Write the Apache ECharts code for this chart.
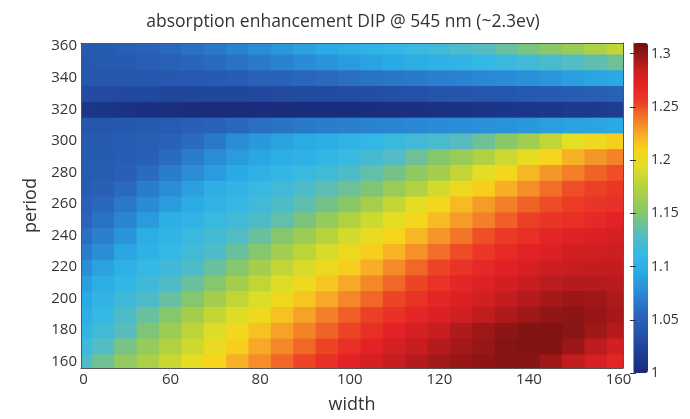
<!DOCTYPE html>
<html><head><meta charset="utf-8">
<script src="https://cdn.jsdelivr.net/npm/echarts@6/dist/echarts.min.js"></script>
<style>html,body{margin:0;padding:0;background:#fff}#c{width:690px;height:419px}</style>
</head><body><div id="c"></div>
<script>
// ---- data ----
const widths = [40, 45, 50, 55, 60, 65, 70, 75, 80, 85, 90, 95, 100, 105, 110, 115, 120, 125, 130, 135, 140, 145, 150, 155, 160];
const periods = [160, 170, 180, 190, 200, 210, 220, 230, 240, 250, 260, 270, 280, 290, 300, 310, 320, 330, 340, 350, 360];
// one row per period (same order as periods), one value per width
const enhancement = [
  [1.125,1.141,1.156,1.169,1.183,1.197,1.210,1.222,1.233,1.244,1.253,1.262,1.270,1.278,1.285,1.290,1.295,1.298,1.300,1.302,1.302,1.296,1.287,1.277,1.268], // 160
  [1.115,1.128,1.144,1.158,1.172,1.186,1.200,1.212,1.225,1.235,1.244,1.253,1.262,1.270,1.278,1.285,1.290,1.295,1.298,1.302,1.304,1.303,1.297,1.288,1.280], // 170
  [1.106,1.119,1.131,1.147,1.162,1.178,1.192,1.205,1.216,1.227,1.236,1.245,1.253,1.262,1.270,1.278,1.285,1.291,1.296,1.300,1.303,1.304,1.301,1.296,1.290], // 180
  [1.100,1.111,1.125,1.138,1.150,1.166,1.181,1.193,1.205,1.216,1.227,1.237,1.246,1.254,1.261,1.267,1.274,1.281,1.287,1.292,1.296,1.299,1.300,1.298,1.294], // 190
  [1.095,1.106,1.117,1.125,1.137,1.150,1.166,1.180,1.192,1.204,1.215,1.225,1.235,1.244,1.253,1.260,1.267,1.274,1.280,1.286,1.290,1.294,1.297,1.296,1.292], // 200
  [1.088,1.098,1.108,1.117,1.125,1.138,1.150,1.166,1.180,1.193,1.205,1.215,1.225,1.235,1.244,1.253,1.260,1.267,1.273,1.279,1.285,1.288,1.290,1.290,1.289], // 210
  [1.078,1.090,1.101,1.110,1.117,1.125,1.138,1.150,1.166,1.180,1.190,1.202,1.212,1.223,1.234,1.244,1.253,1.260,1.266,1.272,1.277,1.282,1.285,1.286,1.286], // 220
  [1.068,1.078,1.092,1.103,1.110,1.118,1.125,1.138,1.150,1.164,1.177,1.190,1.202,1.212,1.221,1.232,1.242,1.251,1.258,1.265,1.270,1.275,1.279,1.281,1.282], // 230
  [1.060,1.070,1.082,1.098,1.106,1.113,1.120,1.127,1.138,1.150,1.162,1.175,1.188,1.200,1.210,1.220,1.230,1.240,1.250,1.256,1.262,1.268,1.272,1.275,1.277], // 240
  [1.053,1.062,1.074,1.086,1.099,1.106,1.112,1.119,1.125,1.135,1.146,1.158,1.172,1.185,1.197,1.208,1.219,1.229,1.237,1.246,1.254,1.259,1.262,1.266,1.270], // 250
  [1.049,1.056,1.066,1.076,1.087,1.097,1.104,1.111,1.118,1.125,1.134,1.143,1.152,1.167,1.181,1.197,1.208,1.219,1.229,1.237,1.245,1.251,1.255,1.259,1.262], // 260
  [1.046,1.049,1.058,1.068,1.078,1.089,1.099,1.106,1.112,1.119,1.125,1.133,1.140,1.148,1.160,1.172,1.188,1.203,1.212,1.223,1.233,1.242,1.250,1.254,1.258], // 270
  [1.045,1.046,1.049,1.058,1.068,1.078,1.087,1.095,1.102,1.108,1.114,1.119,1.125,1.135,1.143,1.155,1.166,1.181,1.197,1.208,1.220,1.230,1.237,1.245,1.250], // 280
  [1.045,1.045,1.047,1.049,1.058,1.068,1.078,1.086,1.093,1.100,1.103,1.108,1.113,1.120,1.128,1.140,1.150,1.160,1.172,1.185,1.198,1.210,1.222,1.230,1.236], // 290
  [1.044,1.045,1.046,1.048,1.051,1.058,1.066,1.078,1.085,1.090,1.096,1.100,1.104,1.109,1.114,1.118,1.123,1.130,1.140,1.152,1.165,1.180,1.195,1.205,1.212], // 300
  [1.040,1.041,1.042,1.044,1.046,1.049,1.052,1.056,1.060,1.063,1.066,1.068,1.070,1.072,1.074,1.075,1.077,1.078,1.080,1.082,1.085,1.088,1.090,1.092,1.095], // 310
  [1.012,1.010,1.008,1.006,1.005,1.004,1.003,1.003,1.003,1.003,1.003,1.003,1.003,1.004,1.005,1.006,1.007,1.008,1.010,1.011,1.012,1.013,1.015,1.016,1.018], // 320
  [1.030,1.029,1.028,1.028,1.027,1.027,1.027,1.027,1.028,1.029,1.030,1.031,1.032,1.033,1.035,1.036,1.038,1.039,1.040,1.041,1.043,1.045,1.047,1.048,1.050], // 330
  [1.040,1.040,1.040,1.041,1.042,1.043,1.045,1.047,1.050,1.052,1.055,1.057,1.060,1.062,1.065,1.067,1.070,1.072,1.075,1.077,1.080,1.084,1.088,1.092,1.095], // 340
  [1.042,1.043,1.045,1.048,1.050,1.054,1.058,1.062,1.067,1.072,1.077,1.082,1.087,1.091,1.095,1.098,1.102,1.106,1.110,1.114,1.118,1.123,1.128,1.134,1.140], // 350
  [1.043,1.045,1.048,1.052,1.056,1.061,1.066,1.072,1.078,1.084,1.090,1.095,1.100,1.104,1.108,1.113,1.118,1.124,1.130,1.137,1.145,1.152,1.160,1.170,1.180]  // 360
];
const xTickValues = [40, 60, 80, 100, 120, 140, 160];
const xTickLabels = ['0', '60', '80', '100', '120', '140', '160'];
const yTickValues = [160, 180, 200, 220, 240, 260, 280, 300, 320, 340, 360];
const cbarTickValues = [1, 1.05, 1.1, 1.15, 1.2, 1.25, 1.3];
const titleText = 'absorption enhancement DIP @ 545 nm (~2.3ev)';

// ---- colour map (jet-like) ----
const colorStops = [
  [1.000, '#1a2a78'], [1.015, '#1c3a8e'], [1.035, '#2450a8'], [1.055, '#2a66bc'],
  [1.075, '#2a88d4'], [1.095, '#2aaae4'], [1.110, '#34b8e6'], [1.130, '#56bcc0'],
  [1.150, '#86c66c'], [1.175, '#b6d23c'], [1.195, '#e2df24'], [1.210, '#f6d41c'],
  [1.225, '#f7a828'], [1.240, '#f27628'], [1.255, '#ec3c26'], [1.270, '#e32226'],
  [1.285, '#c81e20'], [1.295, '#a31818'], [1.302, '#861414'], [1.310, '#721010']
];
const VMIN = 1.0, VMAX = 1.31;
function hex2rgb(h){return [parseInt(h.substr(1,2),16),parseInt(h.substr(3,2),16),parseInt(h.substr(5,2),16)];}
function colorAt(v){
  for (let i = 0; i < colorStops.length - 1; i++) {
    const [a, ca] = colorStops[i], [b, cb] = colorStops[i+1];
    if (v <= b) {
      const t = (v - a) / (b - a), A = hex2rgb(ca), B = hex2rgb(cb);
      return 'rgb(' + A.map((x, k) => Math.round(x + (B[k] - x) * t)).join(',') + ')';
    }
  }
  return colorStops[colorStops.length-1][1];
}
const palette = [];
for (let i = 0; i <= 124; i++) palette.push(colorAt(VMIN + (VMAX - VMIN) * i / 124));

const cells = [];
periods.forEach((p, i) => widths.forEach((w, j) => cells.push([w, p, enhancement[i][j]])));
const HALF_W = (widths[1] - widths[0]) / 2, HALF_P = (periods[1] - periods[0]) / 2;

function renderCell(params, api) {
  const w = api.value(0), p = api.value(1);
  const tl = api.coord([w - HALF_W, p + HALF_P]);
  const br = api.coord([w + HALF_W, p - HALF_P]);
  const cs = params.coordSys;
  const r = echarts.graphic.clipRectByRect(
    {x: tl[0] - 0.5, y: tl[1] - 0.5, width: br[0] - tl[0] + 1, height: br[1] - tl[1] + 1},
    {x: cs.x, y: cs.y, width: cs.width, height: cs.height});
  if (!r) return;
  return {type: 'rect', shape: r, style: {fill: api.visual('color')}};
}

const FONT = 'Open Sans';
const TXT = '#333';
const chart = echarts.init(document.getElementById('c'));
chart.setOption({
  animation: false,
  backgroundColor: '#fff',
  title: {text: titleText, left: 338, top: 8, textAlign: 'center',
    textStyle: {fontFamily: FONT, fontSize: 17.5, fontWeight: 'normal', color: TXT}},
  grid: [
    {left: 81, top: 43, width: 542, height: 330},
    {left: 633, top: 43, width: 15, height: 330}
  ],
  xAxis: [
    {type: 'value', gridIndex: 0, min: 40, max: 161, interval: 20, z: 10,
      axisLine: {show: true, lineStyle: {color: '#555'}}, axisTick: {show: false}, splitLine: {show: false},
      axisLabel: {customValues: xTickValues, margin: 4, fontFamily: FONT, fontSize: 15, color: TXT,
        rich: {first: {fontFamily: FONT, fontSize: 15, color: TXT, padding: [0, 0, 0, 5]}},
        formatter: v => { const k = xTickValues.indexOf(v); return k < 0 ? '' : (k === 0 ? '{first|' + xTickLabels[k] + '}' : xTickLabels[k]); }},
      name: 'width', nameLocation: 'middle', nameGap: 28,
      nameTextStyle: {fontFamily: FONT, fontSize: 18, color: TXT}},
    {type: 'value', gridIndex: 0, position: 'top', min: 40, max: 161, z: 10,
      axisLine: {show: true, lineStyle: {color: '#555'}}, axisTick: {show: false},
      axisLabel: {show: false}, splitLine: {show: false}},
    {type: 'value', gridIndex: 1, min: 0, max: 1, show: false}
  ],
  yAxis: [
    {type: 'value', gridIndex: 0, min: 156, max: 362, interval: 2, z: 10,
      axisLine: {show: true, lineStyle: {color: '#555'}}, axisTick: {show: false}, splitLine: {show: false},
      axisLabel: {customValues: yTickValues, margin: 4, fontFamily: FONT, fontSize: 15, color: TXT,
        formatter: v => yTickValues.indexOf(v) < 0 ? '' : String(v)},
      name: 'period', nameLocation: 'middle', nameGap: 38, nameRotate: 90,
      nameTextStyle: {fontFamily: FONT, fontSize: 18, color: TXT}},
    {type: 'value', gridIndex: 0, position: 'right', min: 156, max: 362, z: 10,
      axisLine: {show: true, lineStyle: {color: '#555'}}, axisTick: {show: false},
      axisLabel: {show: false}, splitLine: {show: false}},
    {type: 'value', gridIndex: 1, position: 'right', min: VMIN, max: VMAX, interval: 0.05, z: 10,
      axisLine: {show: true, lineStyle: {color: '#999'}},
      axisTick: {show: true, inside: true, length: 3, customValues: cbarTickValues, lineStyle: {color: '#333'}},
      splitLine: {show: false},
      axisLabel: {customValues: cbarTickValues, margin: 3, fontFamily: FONT, fontSize: 14, color: TXT,
        formatter: v => { const r = Math.round(v * 100); return (Math.abs(v*100 - r) < 1e-6 && r % 5 === 0) ? String(r / 100) : ''; }}},
    {type: 'value', gridIndex: 1, position: 'left', min: VMIN, max: VMAX, z: 10,
      axisLine: {show: true, lineStyle: {color: '#999'}},
      axisTick: {show: true, inside: true, length: 3, customValues: cbarTickValues, lineStyle: {color: '#333'}},
      axisLabel: {show: false}, splitLine: {show: false}}
  ],
  visualMap: {
    type: 'continuous', min: VMIN, max: VMAX, seriesIndex: 0, calculable: false, hoverLink: false,
    left: 633, top: 43, itemWidth: 15, itemHeight: 330, padding: 0, text: null,
    inRange: {color: palette}
  },
  series: [{
    type: 'custom', xAxisIndex: 0, yAxisIndex: 0, data: cells,
    encode: {x: 0, y: 1}, renderItem: renderCell
  }]
});
</script></body></html>
